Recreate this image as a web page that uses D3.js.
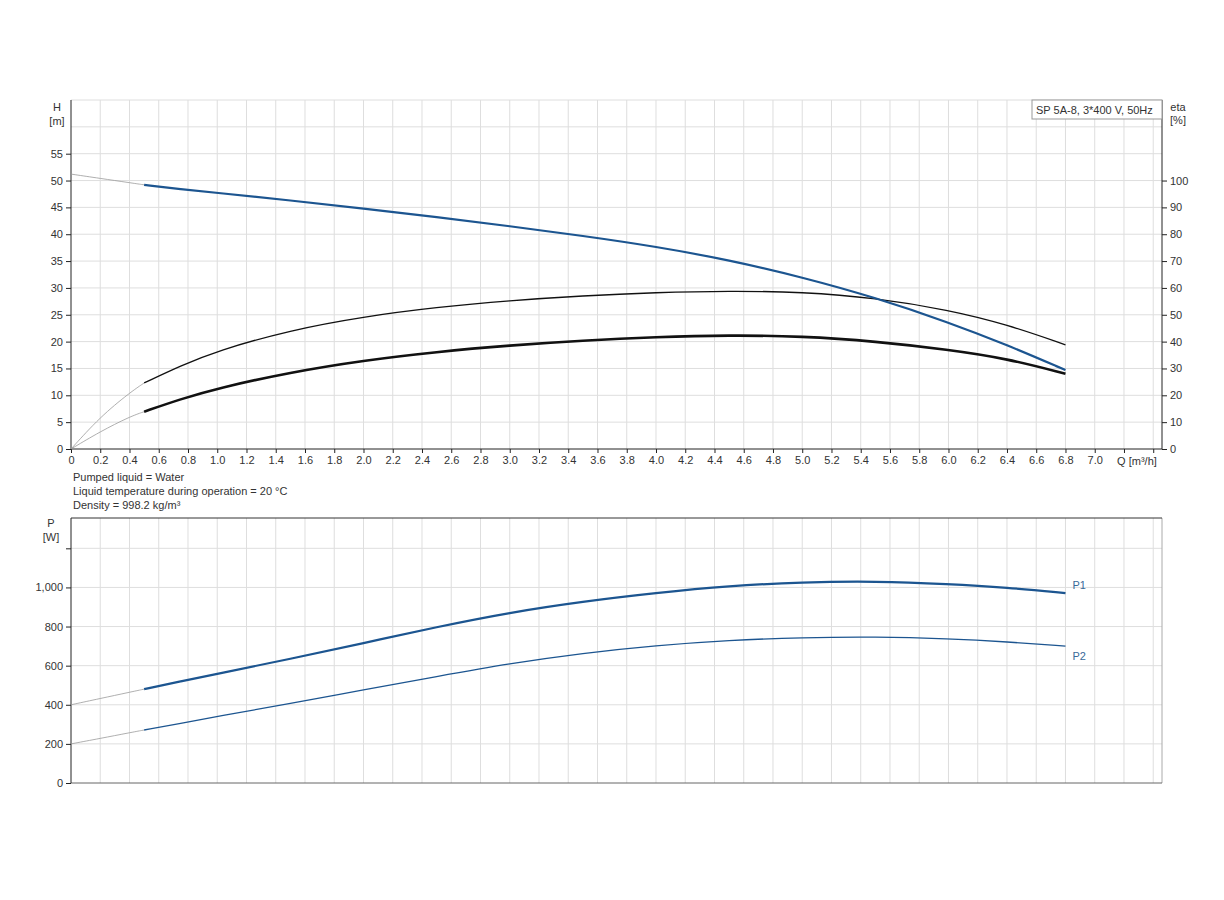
<!DOCTYPE html>
<html>
<head>
<meta charset="utf-8">
<script src="https://cdn.jsdelivr.net/npm/d3@7"></script>
<style>
  body { margin: 0; background: #fff; }
  text { font-family: "Liberation Sans", Arial, sans-serif; fill: #333; }
</style>
</head>
<body>
<div id="chart"></div>
<script>
// flow points, m3/h
const q = [0, 0.2, 0.4, 0.5, 0.75, 1.0, 1.5, 2.0, 2.5, 3.0, 3.5, 4.0, 4.5, 5.0, 5.5, 6.0, 6.4, 6.8]
// head, m
const head = [51.2, 50.4, 49.6, 49.2, 48.4, 47.7, 46.3, 44.8, 43.2, 41.5, 39.7, 37.7, 35.2, 32.0, 28.2, 23.6, 19.4, 14.7]
// efficiencies, %
const etaPump = [0, 12, 20.9, 24.6, 31.0, 36.6, 44.3, 49.3, 52.8, 55.3, 57.1, 58.3, 58.9, 58.5, 56.3, 51.8, 46.4, 38.8]
const etaTotal = [0, 6.5, 12, 13.9, 18.6, 22.6, 28.6, 33.0, 36.2, 38.6, 40.4, 41.7, 42.4, 42.0, 40.1, 37.0, 33.7, 28.0]
// power, W
const p1 = [400, 432, 464, 480, 520, 558, 635, 715, 798, 872, 928, 972, 1008, 1027, 1032, 1018, 1000, 971]
const p2 = [200, 228, 257, 271, 305, 340, 407, 476, 544, 611, 664, 703, 730, 744, 748, 738, 722, 700]

const qTicks = d3.range(0, 38).map(i => +(i * 0.2).toFixed(1))
const hTicks = [0, 5, 10, 15, 20, 25, 30, 35, 40, 45, 50, 55]
const hGrid = [5, 10, 15, 20, 25, 30, 35, 40, 45, 50, 55, 60, 65]
const etaTicks = [0, 10, 20, 30, 40, 50, 60, 70, 80, 90, 100]
const pTicks = [0, 200, 400, 600, 800, 1000, 1200]
const pLabels = [0, 200, 400, 600, 800, 1000]
const notes = ["Pumped liquid = Water", "Liquid temperature during operation = 20 °C", "Density = 998.2 kg/m³"]
const title = "SP 5A-8, 3*400 V, 50Hz"
const qTitle = "Q [m³/h]"

const blue = "#1c5590"
const gridCol = "#dedede"

const svg = d3.select("#chart").append("svg")
    .attr("width", 1224)
    .attr("height", 900)

const left = 71, right = 1162
const x = d3.scaleLinear().domain([0, 7.46]).range([left, right])
const yH = d3.scaleLinear().domain([0, 65]).range([449, 100])
const yEta = d3.scaleLinear().domain([0, 130]).range([449, 100])
const yP = d3.scaleLinear().domain([0, 1355]).range([783, 518])

const rows = q.map((d, i) => ({q: d, h: head[i], ep: etaPump[i], et: etaTotal[i], p1: p1[i], p2: p2[i]}))
const ext = rows.filter(d => d.q <= 0.5)
const main = rows.filter(d => d.q >= 0.5)

// smoothed curves: thin grey part below 0.5 m3/h, coloured operating range above
function drawCurve(g, data, key, yScale, color, width) {
    const line = d3.line()
        .x(d => x(d.q))
        .y(d => yScale(d[key]))
        .curve(d3.curveBasis)
    g.append("path")
        .attr("d", line(ext))
        .attr("fill", "none")
        .attr("stroke", "#9a9a9a")
        .attr("stroke-width", 0.8)
    g.append("path")
        .attr("d", line(data))
        .attr("fill", "none")
        .attr("stroke", color)
        .attr("stroke-width", width)
}

function styleAxis(ax, domainPath) {
    ax.select(".domain").attr("d", domainPath).attr("stroke", "#222")
    ax.selectAll("text").style("font-size", "11px").attr("fill", "#333")
    ax.selectAll(".tick line").attr("stroke", "#222")
}

// ---------- top chart: H and eta ----------
const topG = svg.append("g")

topG.selectAll(".vgrid")
    .data(qTicks.filter(d => d > 0 && x(d) < right - 1))
    .enter().append("line")
    .attr("x1", d => x(d)).attr("x2", d => x(d))
    .attr("y1", 100).attr("y2", 449)
    .attr("stroke", gridCol)

topG.selectAll(".hgrid")
    .data(hGrid)
    .enter().append("line")
    .attr("x1", left).attr("x2", right)
    .attr("y1", d => yH(d)).attr("y2", d => yH(d))
    .attr("stroke", gridCol)

// left H axis
const axH = topG.append("g").attr("transform", "translate(" + left + ",0)")
    .call(d3.axisLeft(yH).tickValues(hTicks).tickSize(5).tickPadding(3))
styleAxis(axH, "M0,449V100")

// right eta axis
const axE = topG.append("g").attr("transform", "translate(" + right + ",0)")
    .call(d3.axisRight(yEta).tickValues(etaTicks).tickSize(5).tickPadding(3))
styleAxis(axE, "M0,449V100")

// bottom Q axis
const axQ = topG.append("g").attr("transform", "translate(0,449)")
    .call(d3.axisBottom(x).tickValues(qTicks).tickSize(4).tickPadding(3)
        .tickFormat(d => d === 0 ? "0" : (d > 7.1 ? "" : d.toFixed(1))))
styleAxis(axQ, "M" + left + ",0H" + right)
axQ.append("text")
    .attr("x", x(7.2) + 13).attr("y", 16)
    .attr("text-anchor", "middle")
    .style("font-size", "11px")
    .text(qTitle)

topG.append("text").attr("x", 57).attr("y", 111).attr("text-anchor", "middle").style("font-size", "11px").text("H")
topG.append("text").attr("x", 57).attr("y", 125).attr("text-anchor", "middle").style("font-size", "11px").text("[m]")
topG.append("text").attr("x", 1178).attr("y", 111).attr("text-anchor", "middle").style("font-size", "11px").text("eta")
topG.append("text").attr("x", 1178).attr("y", 124).attr("text-anchor", "middle").style("font-size", "11px").text("[%]")

// title box
topG.append("rect").attr("x", 1032).attr("y", 100).attr("width", right - 1032).attr("height", 19)
    .attr("fill", "#fff").attr("stroke", "#999")
topG.append("text").attr("x", 1036).attr("y", 114).style("font-size", "11px").text(title)

drawCurve(topG, main, "et", yEta, "#111", 2.6)
drawCurve(topG, main, "ep", yEta, "#111", 1.3)
drawCurve(topG, main, "h", yH, blue, 2.2)

// notes
topG.selectAll(".note")
    .data(notes)
    .enter().append("text")
    .attr("x", 73)
    .attr("y", (d, i) => 481 + i * 14)
    .style("font-size", "11px")
    .text(d => d)

// ---------- bottom chart: power ----------
const botG = svg.append("g")

botG.selectAll(".vgrid")
    .data(qTicks.filter(d => d > 0 && x(d) < right - 1))
    .enter().append("line")
    .attr("x1", d => x(d)).attr("x2", d => x(d))
    .attr("y1", 518).attr("y2", 783)
    .attr("stroke", gridCol)

botG.selectAll(".hgrid")
    .data(pTicks.filter(d => d > 0))
    .enter().append("line")
    .attr("x1", left).attr("x2", right)
    .attr("y1", d => yP(d)).attr("y2", d => yP(d))
    .attr("stroke", gridCol)

botG.append("line").attr("x1", right).attr("x2", right).attr("y1", 518).attr("y2", 783).attr("stroke", "#aaa")
botG.append("line").attr("x1", left).attr("x2", right).attr("y1", 518).attr("y2", 518).attr("stroke", "#333")
botG.append("line").attr("x1", left).attr("x2", right).attr("y1", 783).attr("y2", 783).attr("stroke", "#666")

const axP = botG.append("g").attr("transform", "translate(" + left + ",0)")
    .call(d3.axisLeft(yP).tickValues(pTicks).tickSize(5).tickPadding(3)
        .tickFormat(d => pLabels.includes(d) ? d3.format(",")(d) : ""))
styleAxis(axP, "M0,783V518")

botG.append("text").attr("x", 51).attr("y", 527).attr("text-anchor", "middle").style("font-size", "11px").text("P")
botG.append("text").attr("x", 51).attr("y", 541).attr("text-anchor", "middle").style("font-size", "11px").text("[W]")

drawCurve(botG, main, "p1", yP, blue, 2.2)
drawCurve(botG, main, "p2", yP, blue, 1.3)

const last = main[main.length - 1]
botG.append("text").attr("x", x(last.q) + 7).attr("y", yP(last.p1) - 4)
    .style("font-size", "11px").style("fill", "#3a6a9a").text("P1")
botG.append("text").attr("x", x(last.q) + 7).attr("y", yP(last.p2) + 14)
    .style("font-size", "11px").style("fill", "#3a6a9a").text("P2")
</script>
</body>
</html>
